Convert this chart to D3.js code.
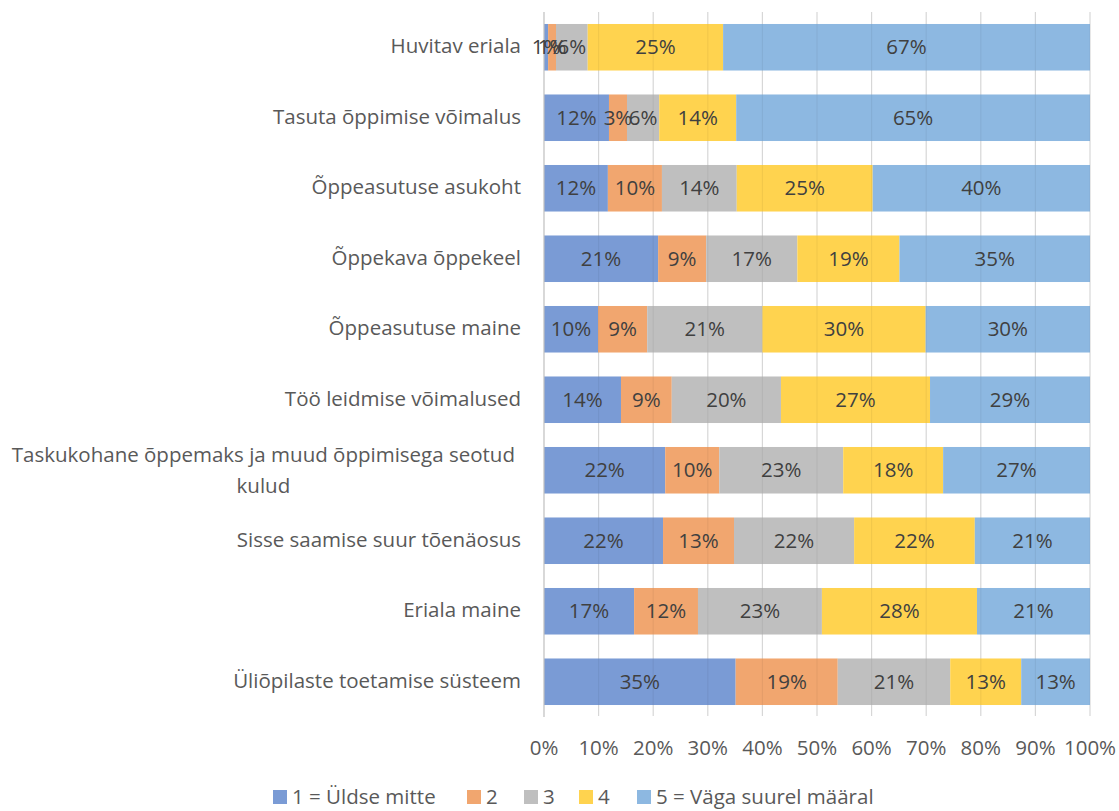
<!DOCTYPE html>
<html>
<head>
<meta charset="utf-8">
<script src="https://cdn.jsdelivr.net/npm/d3@7/dist/d3.min.js"></script>
<style>
  html, body { margin: 0; padding: 0; background: #fff; }
  svg { display: block; font-family: "Open Sans", "Noto Sans", sans-serif; }
</style>
</head>
<body>
<svg id="chart" width="1119" height="811"></svg>
<script>
const categories = [
  "Huvitav eriala",
  "Tasuta õppimise võimalus",
  "Õppeasutuse asukoht",
  "Õppekava õppekeel",
  "Õppeasutuse maine",
  "Töö leidmise võimalused",
  "Taskukohane õppemaks ja muud õppimisega seotud kulud",
  "Sisse saamise suur tõenäosus",
  "Eriala maine",
  "Üliõpilaste toetamise süsteem"
];
const seriesNames = ["1 = Üldse mitte", "2", "3", "4", "5 = Väga suurel määral"];
const s1 = [0.75, 11.9, 11.7, 20.9, 9.9, 14.1, 22.2, 21.8, 16.5, 35.1];
const s2 = [1.45, 3.3, 9.9, 8.8, 9.0, 9.3, 9.9, 13.0, 11.7, 18.7];
const s3 = [5.8, 5.9, 13.7, 16.7, 21.1, 20.0, 22.7, 22.0, 22.7, 20.6];
const s4 = [24.8, 14.1, 24.9, 18.7, 29.9, 27.3, 18.3, 22.1, 28.4, 13.0];
const s5 = [67.2, 64.8, 39.8, 34.9, 30.1, 29.3, 26.9, 21.1, 20.7, 12.6];
const tickValues = [0, 10, 20, 30, 40, 50, 60, 70, 80, 90, 100];
const colors = ["#7a9bd5", "#f1a66f", "#bfbfbf", "#ffd34f", "#8db8e1"];

const series = [s1, s2, s3, s4, s5];
const rows = categories.map((c, i) => {
  const o = { cat: c };
  series.forEach((s, k) => o["k" + k] = s[i]);
  return o;
});
const keys = series.map((s, k) => "k" + k);
const stacked = d3.stack().keys(keys)(rows);

const svg = d3.select("#chart");
const x = d3.scaleLinear().domain([0, 100]).range([544, 1090]);
const y = d3.scaleBand().domain(categories).range([12, 717]).paddingInner(0.34).paddingOuter(0.17);

const FS = 20.5;

// gridlines under bars
svg.append("g").selectAll("line").data(tickValues.slice(1)).join("line")
  .attr("x1", d => x(d)).attr("x2", d => x(d))
  .attr("y1", 12).attr("y2", 716)
  .attr("stroke", "#e3e3e3").attr("stroke-width", 1.2);

// bars
const layers = svg.append("g").selectAll("g").data(stacked).join("g")
  .attr("fill", (d, i) => colors[i]);
layers.selectAll("rect").data(d => d).join("rect")
  .attr("x", d => x(d[0]))
  .attr("y", d => y(d.data.cat))
  .attr("width", d => x(d[1]) - x(d[0]))
  .attr("height", y.bandwidth());

// faint gridlines over bars
svg.append("g").selectAll("line").data(tickValues.slice(1)).join("line")
  .attr("x1", d => x(d)).attr("x2", d => x(d))
  .attr("y1", 12).attr("y2", 716)
  .attr("stroke", "#000").attr("stroke-opacity", 0.05).attr("stroke-width", 1.2);

// value axis line at 0
svg.append("line").attr("x1", x(0)).attr("x2", x(0)).attr("y1", 12).attr("y2", 717)
  .attr("stroke", "#bfbfbf").attr("stroke-width", 1.2);

// data labels
stacked.forEach((layer, k) => {
  svg.append("g").selectAll("text").data(layer).join("text")
    .attr("x", d => (x(d[0]) + x(d[1])) / 2)
    .attr("y", d => y(d.data.cat) + y.bandwidth() / 2)
    .attr("dy", "0.35em")
    .attr("text-anchor", "middle")
    .attr("fill", "#404040")
    .attr("font-size", FS)
    .text(d => Math.round(d[1] - d[0]) + "%");
});

// x tick labels
svg.append("g").selectAll("text").data(tickValues).join("text")
  .attr("x", d => x(d))
  .attr("y", 748)
  .attr("dy", "0.35em")
  .attr("text-anchor", "middle")
  .attr("fill", "#595959")
  .attr("font-size", FS)
  .text(d => d + "%");

// category labels
const catG = svg.append("g");
categories.forEach(c => {
  const cy = y(c) + y.bandwidth() / 2;
  if (c.startsWith("Taskukohane")) {
    const l1 = "Taskukohane õppemaks ja muud õppimisega seotud";
    const l2 = "kulud";
    const t1 = catG.append("text").attr("x", 515).attr("y", cy - 15).attr("dy", "0.35em")
      .attr("text-anchor", "end").attr("fill", "#595959").attr("font-size", FS).text(l1);
    const w = t1.node().getComputedTextLength();
    catG.append("text").attr("x", 515 - w / 2).attr("y", cy + 16).attr("dy", "0.35em")
      .attr("text-anchor", "middle").attr("fill", "#595959").attr("font-size", FS).text(l2);
  } else {
    catG.append("text").attr("x", 521).attr("y", cy - 1).attr("dy", "0.35em")
      .attr("text-anchor", "end").attr("fill", "#595959").attr("font-size", FS).text(c);
  }
});

// legend
const legendX = [273, 467, 524, 579, 637];
const lg = svg.append("g");
seriesNames.forEach((n, i) => {
  lg.append("rect").attr("x", legendX[i]).attr("y", 790).attr("width", 14).attr("height", 14).attr("fill", colors[i]);
  lg.append("text").attr("x", legendX[i] + 19).attr("y", 797).attr("dy", "0.35em")
    .attr("fill", "#595959").attr("font-size", FS).text(n);
});
</script>
</body>
</html>
